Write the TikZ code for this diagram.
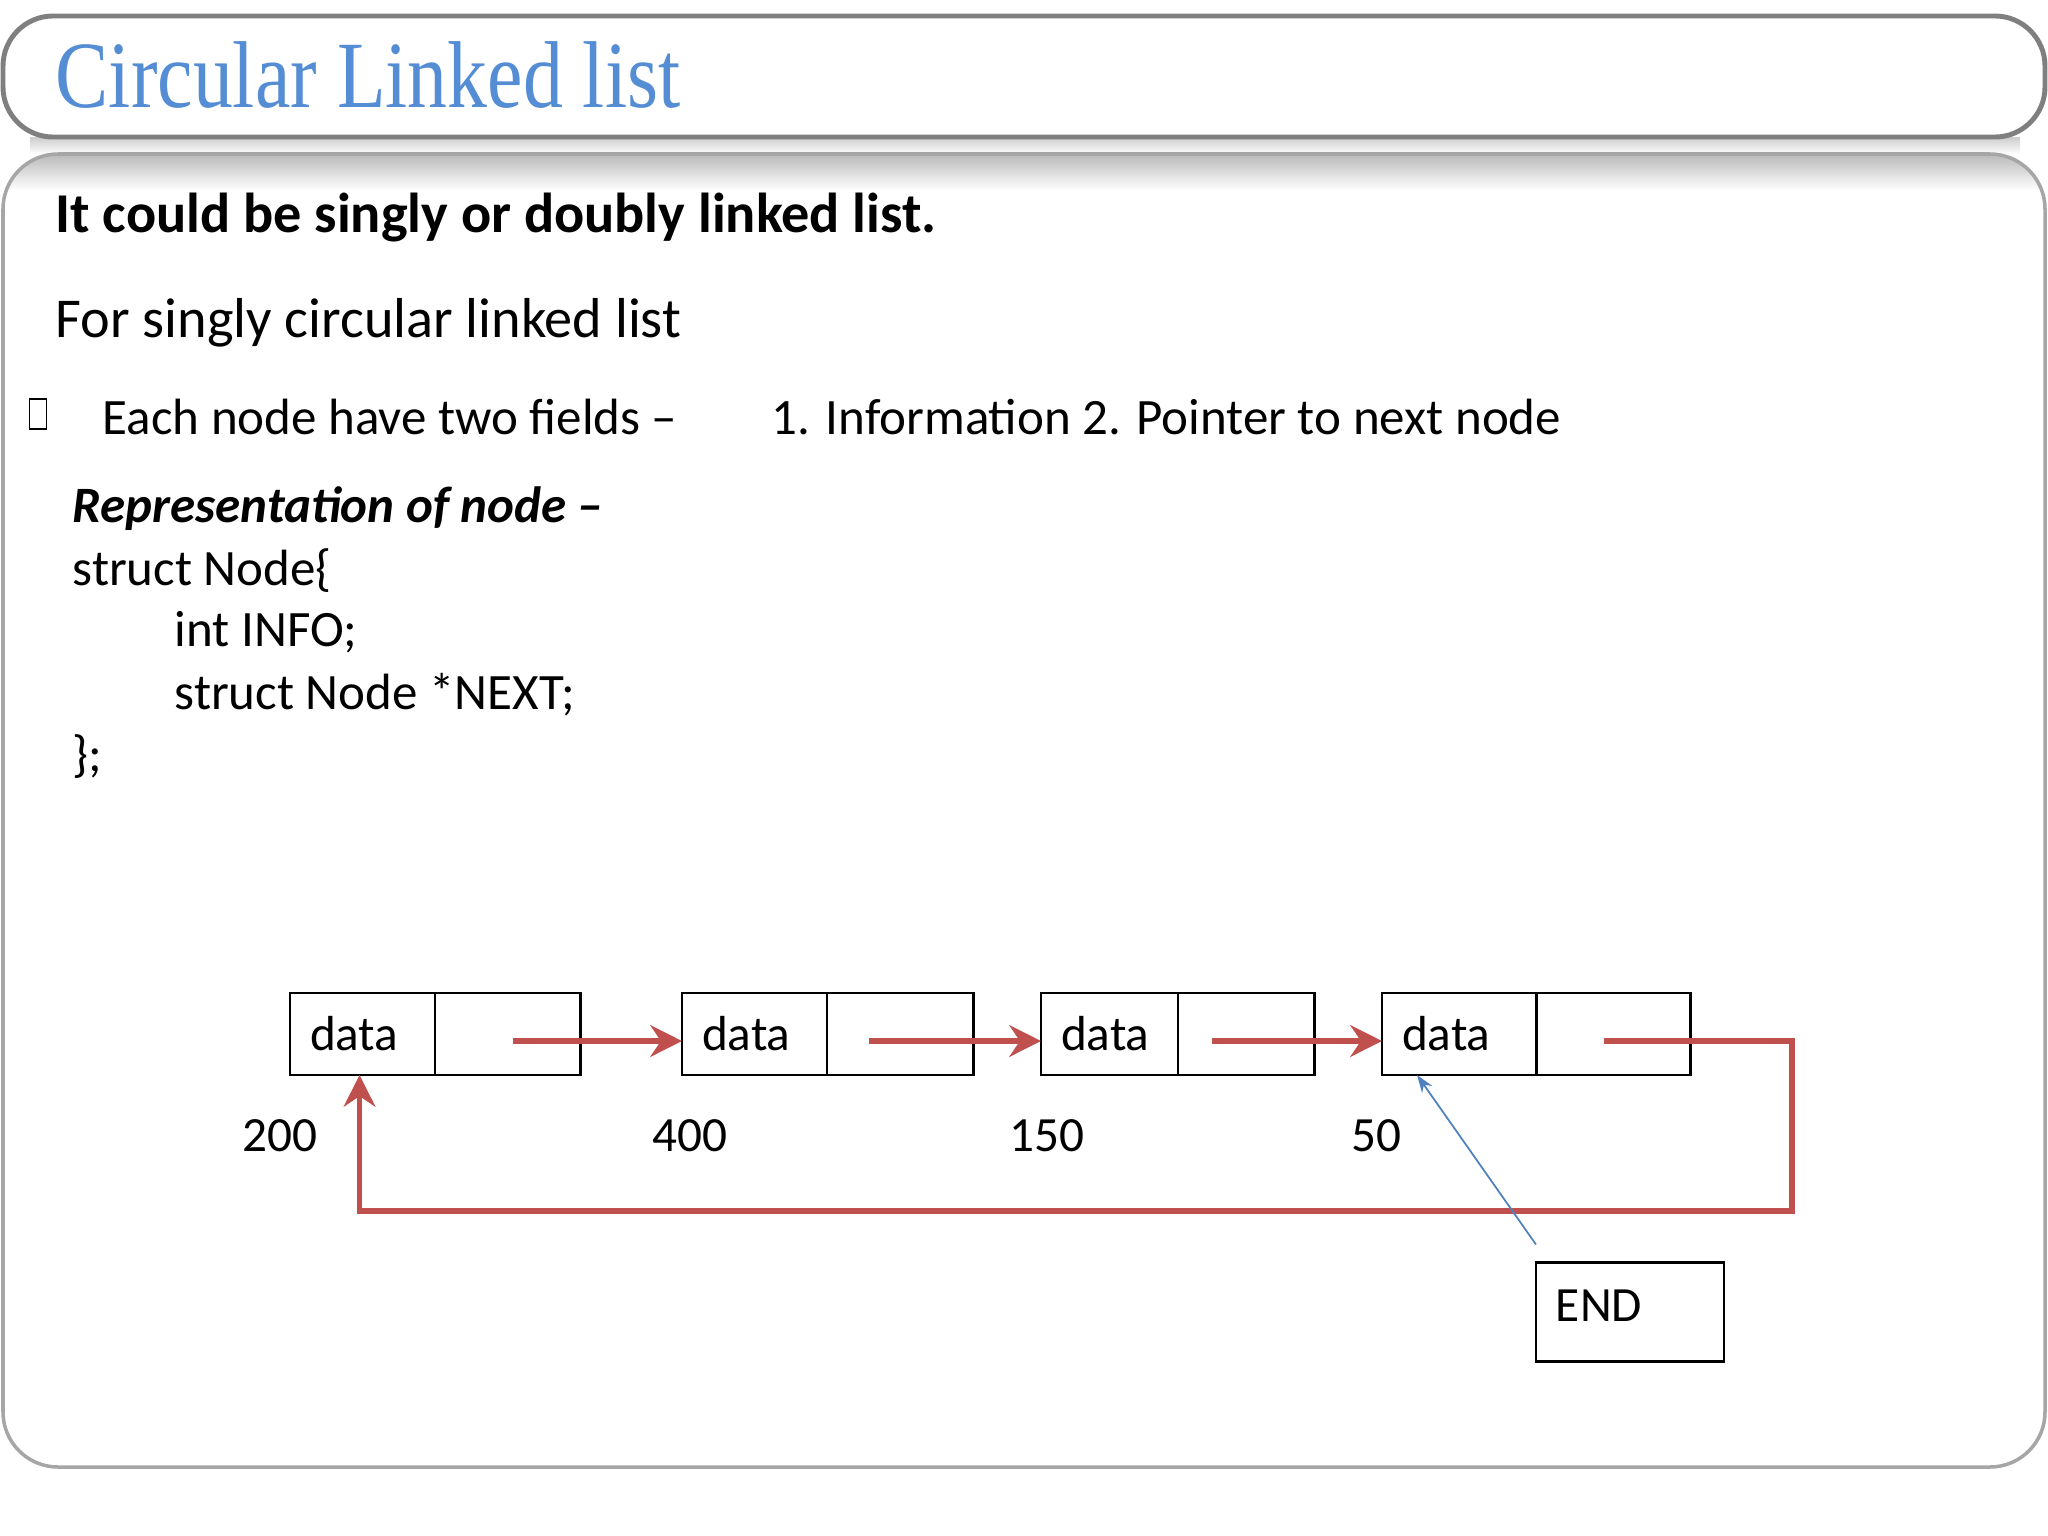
\documentclass[tikz,border=0pt]{standalone}
\usepackage{fontspec}
\setmainfont{Carlito}
\newfontfamily\titlefont[FakeStretch=0.84]{Liberation Serif}
\usetikzlibrary{positioning,calc,arrows.meta}
\definecolor{titleblue}{RGB}{84,141,212}
\definecolor{linkred}{RGB}{192,80,77}
\definecolor{endblue}{RGB}{79,129,189}
\definecolor{framegray}{RGB}{127,127,127}
\definecolor{bodygray}{RGB}{166,166,166}

\begin{document}
\begin{tikzpicture}[x=0.01cm,y=-0.01cm,
  cell/.style={draw,line width=0.8pt,minimum height=0.82cm,inner sep=0pt,outer sep=0pt,
    font=\fontsize{14}{16}\selectfont},
  datacell/.style={cell,text width=#1,align=left,inner xsep=0.2cm},
  ptrcell/.style={cell,minimum width=#1},
  addr/.style={inner sep=0pt,font=\fontsize{14}{16}\selectfont},
  link/.style={draw=linkred,line width=1.5pt,-{Stealth[length=9pt,width=9pt,inset=3pt]}},
  txt/.style={anchor=base west,inner sep=0pt,font=\fontsize{16}{19}\selectfont},
  code/.style={anchor=base west,inner sep=0pt,font=\fontsize{14.5}{17}\selectfont}]
\useasboundingbox (0,0) rectangle (2048,1536);
% the two frames of the slide
\begin{scope}
\clip[rounded corners=0.55cm] (3,154) rectangle (2045,1467);
\shade[top color=gray!55,bottom color=white] (0,154) rectangle (2048,190);
\end{scope}
\shade[top color=gray!40,bottom color=white] (30,137) rectangle (2020,154);
\draw[bodygray,line width=1pt,rounded corners=0.55cm] (3,154) rectangle (2045,1467);
\draw[framegray,line width=1.4pt,rounded corners=0.5cm,fill=white] (3,16) rectangle (2045,137);
% texts
\node[anchor=base west,inner sep=0pt,text=titleblue,font=\titlefont\fontsize{27}{30}\selectfont] (title) at (55,107) {Circular Linked list};
\node[txt,font=\fontsize{16}{19}\selectfont\bfseries] (intro) at (55,232) {It could be singly or doubly linked list.};
\node[txt] (sub) at (55,337) {For singly circular linked list};
\node[draw,line width=0.4pt,minimum width=0.17cm,minimum height=0.3cm,inner sep=0pt] (bullet) at (38,414) {};
\node[code] (fields) at (102,434) {Each node have two fields –};
\node[code] (items) at (771,434) {1. Information 2. Pointer to next node};
\node[code,font=\fontsize{14.5}{17}\selectfont\bfseries\itshape] (rep) at (72,522) {Representation of node –};
\node[code] (open) at (72,585) {struct Node\{};
\node[code] (info) at (174,646) {int INFO;};
\node[code] (next) at (174,709) {struct Node *NEXT;};
\node[code] (close) at (72,771) {\};};
% list nodes
\node[datacell=1.05cm,anchor=west] (d1) at (290,1034) {data};
\node[ptrcell=1.45cm,right=0pt of d1] (p1) {};
\node[datacell=1.05cm,anchor=west] (d2) at (682,1034) {data};
\node[ptrcell=1.46cm,right=0pt of d2] (p2) {};
\node[datacell=0.97cm,anchor=west] (d3) at (1041,1034) {data};
\node[ptrcell=1.36cm,right=0pt of d3] (p3) {};
\node[datacell=1.14cm,anchor=west] (d4) at (1382,1034) {data};
\node[ptrcell=1.54cm,right=0pt of d4] (p4) {};
% addresses
\node[addr] (a1) at (280,1136) {200};
\node[addr] (a2) at (690,1136) {400};
\node[addr] (a3) at (1047,1136) {150};
\node[addr] (a4) at (1376,1136) {50};
% end pointer
\node[cell,text width=1.48cm,align=left,inner xsep=0.2cm,minimum height=0.99cm,text depth=0.13cm] (endp) at (1630,1312) {END};
\coordinate (endtail) at ($(endp.north west)+(0,-18)$);
\coordinate (turn) at (1792,1211);
% the arrows
\draw[link] ($(p1.center)+(5,7)$) -- ($(d2.west)+(0,7)$);
\draw[link] ($(p2.center)+(-31,7)$) -- ($(d3.west)+(0,7)$);
\draw[link] ($(p3.center)+(-34,7)$) -- ($(d4.west)+(0,7)$);
\draw[link] ($(p4.center)+(-9,7)$) -| (turn) -| ($(d1.south)+(-3,0)$);
\draw[endblue,line width=0.5pt,-{Stealth[length=5pt,width=3.5pt]}] (endtail) -- ($(d4.south)+(-42,0)$);
\end{tikzpicture}
\end{document}
